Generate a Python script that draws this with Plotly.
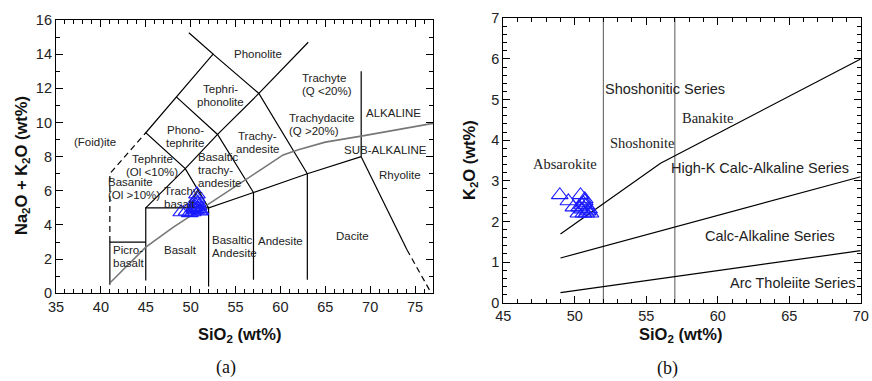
import plotly.graph_objects as go

# ---------------- data ----------------
# sample compositions (wt%)
sio2 = [48.95, 50.4, 49.55, 50.3, 50.5, 50.6, 50.7, 50.8, 50.6, 50.9, 50.25, 51.0, 50.7, 50.8, 50.5, 51.1, 49.9]
alkali = [4.75, 4.9, 4.8, 5.0, 5.2, 5.4, 5.8, 5.3, 4.9, 5.1, 4.75, 4.8, 5.55, 4.95, 5.05, 4.85, 4.7]
k2o = [2.65, 2.65, 2.5, 2.35, 2.3, 2.45, 2.5, 2.4, 2.2, 2.25, 2.2, 2.3, 2.55, 2.2, 2.4, 2.2, 2.35]

# TAS boundary polylines (SiO2, Na2O+K2O)
tas_solid = [
    [(41, 0.5), (41, 3), (45, 3)],
    [(45, 0.75), (45, 5), (52, 5)],
    [(52, 0.4), (52, 5), (57, 5.9), (63, 7), (69, 8)],
    [(57, 0.8), (57, 5.9)],
    [(63, 0.8), (63, 7)],
    [(69, 8), (69, 13)],
    [(69, 8), (74.1, 2.55)],
    [(45, 5), (49.4, 7.3), (53, 9.3), (57.6, 11.7), (63.1, 14.7)],
    [(52, 5), (49.4, 7.3), (45, 9.4), (48.4, 11.5), (52.5, 14), (49.8, 15.25)],
    [(48.4, 11.5), (53, 9.3), (57, 5.9)],
    [(52.5, 14), (57.6, 11.7), (63, 7)],
]
tas_dashed = [
    [(41, 3), (41, 7), (45, 9.4)],
    [(74.1, 2.55), (76.6, 0.2)],
]
alk_x = [41, 45, 48, 50, 52, 54, 56, 58, 60.3, 62, 65, 69, 77]
alk_y = [0.6, 2.7, 3.85, 4.55, 5.2, 5.95, 6.6, 7.3, 8.1, 8.4, 8.85, 9.2, 9.95]

tas_labels = [
    ("Phonolite", 57.5, 14.0, "center"),
    ("Tephri-<br>phonolite", 53.3, 11.6, "center"),
    ("Trachyte<br>(Q <20%)", 62.2, 12.2, "left"),
    ("ALKALINE", 72.6, 10.55, "center"),
    ("Trachydacite<br>(Q >20%)", 60.75, 9.9, "left"),
    ("Phono-<br>tephrite", 49.4, 9.2, "center"),
    ("Trachy-<br>andesite", 57.5, 8.85, "center"),
    ("(Foid)ite", 39.3, 8.85, "center"),
    ("SUB-ALKALINE", 71.7, 8.4, "center"),
    ("Rhyolite", 73.3, 6.9, "center"),
    ("Tephrite<br>(Ol <10%)", 45.7, 7.46, "center"),
    ("Basaltic<br>trachy-<br>andesite", 50.6, 7.2, "left"),
    ("Basanite<br>(Ol >10%)", 40.6, 6.15, "left"),
    ("Trachy-<br>basalt", 46.85, 5.6, "left"),
    ("Basalt", 48.9, 2.54, "center"),
    ("Picro-<br>basalt", 41.1, 2.15, "left"),
    ("Basaltic<br>Andesite", 52.15, 2.73, "left"),
    ("Andesite", 60.03, 3.09, "center"),
    ("Dacite", 68.06, 3.36, "center"),
]

# K2O vs SiO2 boundaries
k_lines = [
    [(49, 1.69), (56, 3.43), (70, 6.0)],
    [(49, 1.1), (70, 3.1)],
    [(49, 0.25), (70, 1.28)],
]
k_vlines = [52, 57]
k_labels_sans = [
    ("Shoshonitic Series", 56.3, 5.26),
    ("High-K Calc-Alkaline Series", 62.95, 3.31),
    ("Calc-Alkaline Series", 63.65, 1.65),
    ("Arc Tholeiite Series", 65.2, 0.48),
]
k_labels_serif = [
    ("Banakite", 59.3, 4.54),
    ("Shoshonite", 54.7, 3.94),
    ("Absarokite", 49.3, 3.41),
]

SANS = "Liberation Sans, Arial, sans-serif"
SERIF = "Liberation Serif, Times New Roman, serif"
W, H = 872, 381
LINE_GAP = 13  # px between lines of multi-line region labels

fig = go.Figure()

def add_poly(pts, xa, ya, color="black", width=1.2, dash="solid"):
    fig.add_trace(go.Scatter(
        x=[p[0] for p in pts], y=[p[1] for p in pts], mode="lines",
        line=dict(color=color, width=width, dash=dash),
        xaxis=xa, yaxis=ya, hoverinfo="skip", showlegend=False))

for poly in tas_solid:
    add_poly(poly, "x", "y")
for poly in tas_dashed:
    add_poly(poly, "x", "y", dash="6px,4px")
fig.add_trace(go.Scatter(x=alk_x, y=alk_y, mode="lines",
                         line=dict(color="#777777", width=1.6),
                         xaxis="x", yaxis="y", hoverinfo="skip", showlegend=False))

for xv in k_vlines:
    add_poly([(xv, 0), (xv, 7)], "x2", "y2", color="#666666", width=1.1)
for poly in k_lines:
    add_poly(poly, "x2", "y2")

marker = dict(symbol="triangle-up-open", size=14.5, color="#1a1aff", line=dict(width=1.1, color="#1a1aff"))
fig.add_trace(go.Scatter(x=sio2, y=alkali, mode="markers", marker=marker,
                         xaxis="x", yaxis="y", showlegend=False, hoverinfo="skip"))
fig.add_trace(go.Scatter(x=sio2, y=k2o, mode="markers", marker=marker,
                         xaxis="x2", yaxis="y2", showlegend=False, hoverinfo="skip"))

ann = []
for t, x, y, al in tas_labels:
    lines = t.split("<br>")
    n = len(lines)
    for i, ln in enumerate(lines):
        ann.append(dict(text=ln, x=x, y=y, xref="x", yref="y", showarrow=False,
                        xanchor=al, yanchor="middle",
                        yshift=((n - 1) / 2 - i) * LINE_GAP,
                        font=dict(family=SANS, size=11.5, color="#222222")))
for t, x, y in k_labels_sans:
    ann.append(dict(text=t, x=x, y=y, xref="x2", yref="y2", showarrow=False,
                    xanchor="center", yanchor="middle",
                    font=dict(family=SANS, size=14.5, color="#222222")))
for t, x, y in k_labels_serif:
    ann.append(dict(text=t, x=x, y=y, xref="x2", yref="y2", showarrow=False,
                    xanchor="center", yanchor="middle",
                    font=dict(family=SERIF, size=14.5, color="#222222")))

# axis titles & panel labels
def px(xp, yp):
    return xp / W, 1 - yp / H

for text, xp, yp, ang, fam, sz, bold in [
    ("Na<sub>2</sub>O + K<sub>2</sub>O (wt%)", 22, 166, -90, SANS, 16.5, True),
    ("SiO<sub>2</sub> (wt%)", 239, 335, 0, SANS, 16.5, True),
    ("K<sub>2</sub>O (wt%)", 470, 160, -90, SANS, 16.5, True),
    ("SiO<sub>2</sub> (wt%)", 680, 335, 0, SANS, 16.5, True),
    ("(a)", 226, 367, 0, SERIF, 18, False),
    ("(b)", 667, 368, 0, SERIF, 18, False),
]:
    xx, yy = px(xp, yp)
    ann.append(dict(text=("<b>%s</b>" % text) if bold else text, x=xx, y=yy,
                    xref="paper", yref="paper", showarrow=False, textangle=ang,
                    xanchor="center", yanchor="middle",
                    font=dict(family=fam, size=sz, color="#111111")))

def axis(rng, dtick, minor, domain, anchor):
    return dict(range=rng, dtick=dtick, tick0=0, domain=domain, anchor=anchor,
                automargin=False,
                showgrid=False, zeroline=False, showline=True, linecolor="black",
                linewidth=1.2, mirror="ticks", ticks="inside", ticklen=7,
                tickwidth=1, tickcolor="black",
                minor=dict(dtick=minor, ticks="inside", ticklen=4, tickcolor="black", tickwidth=1, showgrid=False),
                tickfont=dict(family=SANS, size=14.5, color="#222222"))

fig.update_layout(
    template="none",
    width=W, height=H, margin=dict(l=0, r=0, t=0, b=0, pad=0, autoexpand=False),
    paper_bgcolor="white", plot_bgcolor="white",
    xaxis=axis([35, 77], 5, 1, [56 / W, 433 / W], "y"),
    yaxis=axis([0, 16], 2, 1, [1 - 293.3 / H, 1 - 20 / H], "x"),
    xaxis2=axis([45, 70], 5, 1, [503.3 / W, 860.7 / W], "y2"),
    yaxis2=axis([0, 7], 1, 0.2, [1 - 302.7 / H, 1 - 18.3 / H], "x2"),
    annotations=ann,
    showlegend=False,
)

fig.write_html("out.html", config={"displayModeBar": False},
               post_script="document.body.style.margin='0';document.body.style.overflow='hidden';")
